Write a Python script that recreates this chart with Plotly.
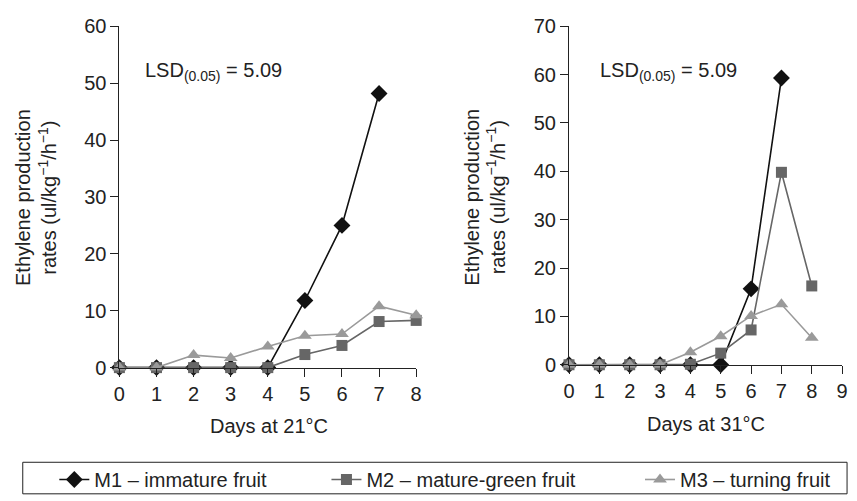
import plotly.graph_objects as go

days_21 = [0, 1, 2, 3, 4, 5, 6, 7, 8]
m1_21 = [0, 0, 0, 0, 0, 11.8, 25.0, 48.2]
m2_21 = [0, 0, 0, 0, 0, 2.3, 3.9, 8.1, 8.3]
m3_21 = [0, 0, 2.2, 1.7, 3.7, 5.6, 5.9, 10.8, 9.2]

days_31 = [0, 1, 2, 3, 4, 5, 6, 7, 8]
m1_31 = [0, 0, 0, 0, 0, 0, 15.7, 59.3]
m2_31 = [0, 0, 0, 0, 0.1, 2.4, 7.2, 39.8, 16.3]
m3_31 = [0, 0, 0, 0, 2.6, 5.9, 10.1, 12.5, 5.6]

series_names = ["M1 – immature fruit", "M2 – mature-green fruit", "M3 – turning fruit"]
x_ticks_21 = [0, 1, 2, 3, 4, 5, 6, 7, 8]
x_ticks_31 = [0, 1, 2, 3, 4, 5, 6, 7, 8, 9]
y_ticks_21 = [0, 10, 20, 30, 40, 50, 60]
y_ticks_31 = [0, 10, 20, 30, 40, 50, 60, 70]

W, H = 857, 501
colors = ["#111111", "#666666", "#9a9a9a"]
symbols = ["diamond", "square", "triangle-up"]
sizes = [13, 11, 12]
FONT = "Liberation Sans, Arial, sans-serif"
TXT = "#222222"
FS = 20
legend_ids = ["legend", "legend2", "legend3"]

fig = go.Figure()
left = [m1_21, m2_21, m3_21]
right = [m1_31, m2_31, m3_31]
for i in range(3):
    fig.add_trace(go.Scatter(
        x=days_21[:len(left[i])], y=left[i], mode="lines+markers", name=series_names[i],
        line=dict(color=colors[i], width=1.6), legendgroup=str(i), legend=legend_ids[i],
        marker=dict(symbol=symbols[i], size=sizes[i], color=colors[i]),
        xaxis="x", yaxis="y", cliponaxis=False, showlegend=True))
for i in range(3):
    fig.add_trace(go.Scatter(
        x=days_31[:len(right[i])], y=right[i], mode="lines+markers", name=series_names[i],
        line=dict(color=colors[i], width=1.6), legendgroup=str(i), legend=legend_ids[i],
        marker=dict(symbol=symbols[i], size=sizes[i], color=colors[i]),
        xaxis="x2", yaxis="y2", cliponaxis=False, showlegend=False))

axis_common = dict(showgrid=False, zeroline=False, showline=True, linecolor="#222",
                   linewidth=1, ticks="outside", ticklen=8, tickcolor="#222",
                   tickfont=dict(family=FONT, size=FS, color=TXT))

def py(p):
    return 1 - p / H

def leg(xpix):
    return dict(orientation="h", x=xpix / W, y=py(490), xanchor="left", yanchor="middle",
                borderwidth=0, bgcolor="rgba(0,0,0,0)",
                font=dict(family=FONT, size=FS, color=TXT))

fig.update_layout(
    width=W, height=H, margin=dict(l=0, r=0, t=0, b=0),
    paper_bgcolor="white", plot_bgcolor="white",
    font=dict(family=FONT, color=TXT),
    xaxis=dict(domain=[115 / W, 416 / W], range=[0, 8], tickvals=x_ticks_21,
               anchor="y", **axis_common),
    yaxis=dict(domain=[py(373), py(16)], range=[0, 60], tickvals=y_ticks_21,
               anchor="x", **axis_common),
    xaxis2=dict(domain=[571 / W, 848 / W], range=[0, 9], tickvals=x_ticks_31,
                anchor="y2", **axis_common),
    yaxis2=dict(domain=[py(370), py(16)], range=[0, 70], tickvals=y_ticks_31,
                anchor="x2", **axis_common),
    legend=leg(49),
    legend2=leg(325),
    legend3=leg(643),
    showlegend=True,
)

fig.add_shape(type="rect", xref="paper", yref="paper",
              x0=17 / W, x1=853 / W, y0=py(472), y1=py(505),
              line=dict(color="#222", width=1), fillcolor="rgba(0,0,0,0)")

annos = [
    dict(x=139 / W, y=py(63), text="LSD<sub>(0.05)</sub> = 5.09", xanchor="left"),
    dict(x=600 / W, y=py(63), text="LSD<sub>(0.05)</sub> = 5.09", xanchor="left"),
    dict(x=267 / W, y=py(434), text="Days at 21°C", xanchor="center"),
    dict(x=710 / W, y=py(432), text="Days at 31°C", xanchor="center"),
    dict(x=31 / W, y=py(195), text="Ethylene production<br>rates (ul/kg<sup>−1</sup>/h<sup>−1</sup>)",
         xanchor="center", textangle=-90),
    dict(x=486 / W, y=py(195), text="Ethylene production<br>rates (ul/kg<sup>−1</sup>/h<sup>−1</sup>)",
         xanchor="center", textangle=-90),
]
for a in annos:
    fig.add_annotation(xref="paper", yref="paper", showarrow=False, yanchor="middle",
                       font=dict(family=FONT, size=FS, color=TXT), **a)

fig.write_html("out.html", config={"displayModeBar": False},
               post_script="document.body.style.margin='0';document.body.style.overflow='hidden';")
